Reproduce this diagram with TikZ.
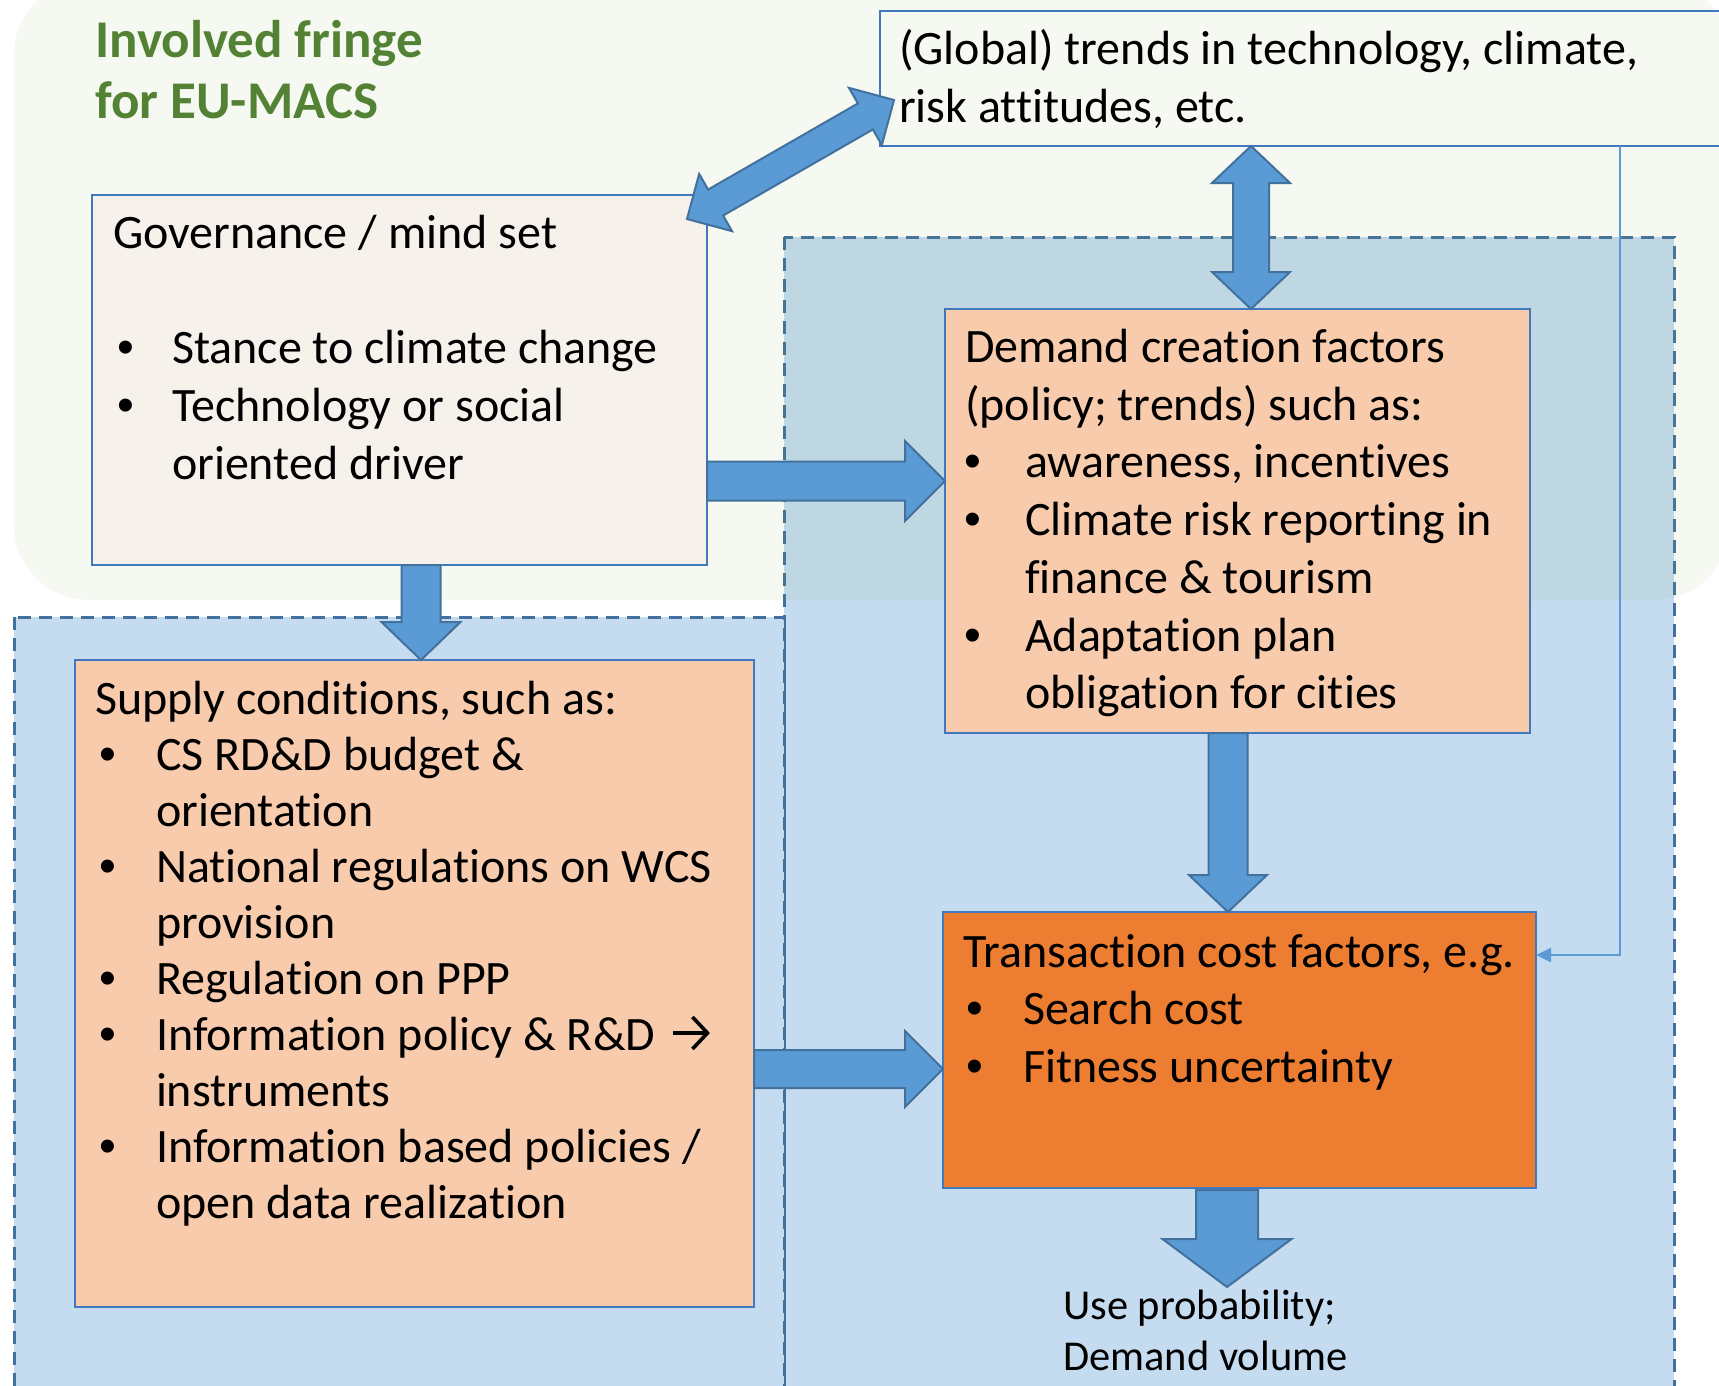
\documentclass[tikz,border=0pt]{standalone}
\usepackage{fontspec}
\setmainfont{Carlito}[Ligatures=NoCommon]
\newfontfamily\arialb{Liberation Sans}
\usetikzlibrary{calc,arrows.meta}
\definecolor{boxline}{RGB}{65,120,190}
\definecolor{dashline}{RGB}{65,113,156}
\definecolor{bluefill}{RGB}{197,219,239}
\definecolor{fringe}{RGB}{112,173,71}
\definecolor{titlegreen}{RGB}{84,130,53}
\definecolor{govfill}{RGB}{246,241,235}
\definecolor{peach}{RGB}{248,203,173}
\definecolor{orangefill}{RGB}{237,125,49}
\definecolor{arrowfill}{RGB}{91,155,213}
\definecolor{arrowline}{RGB}{65,113,156}
\definecolor{thinline}{RGB}{91,155,213}

\newcommand\arrowone[5]{%
  \coordinate (hb) at ($(#2)!#5!(#1)$);
  \filldraw[blockarrow] ($(#1)!#3!90:(#2)$) -- ($(hb)!#3!90:(#2)$) -- ($(hb)!#4!90:(#2)$) -- (#2)
    -- ($(hb)!#4!-90:(#2)$) -- ($(hb)!#3!-90:(#2)$) -- ($(#1)!#3!-90:(#2)$) -- cycle;
}
\newcommand\arrowtwo[5]{%
  \coordinate (hbB) at ($(#2)!#5!(#1)$);
  \coordinate (hbA) at ($(#1)!#5!(#2)$);
  \filldraw[blockarrow] (#1) -- ($(hbA)!#4!90:(#2)$) -- ($(hbA)!#3!90:(#2)$) -- ($(hbB)!#3!90:(#2)$)
    -- ($(hbB)!#4!90:(#2)$) -- (#2) -- ($(hbB)!#4!-90:(#2)$) -- ($(hbB)!#3!-90:(#2)$)
    -- ($(hbA)!#3!-90:(#2)$) -- ($(hbA)!#4!-90:(#2)$) -- cycle;
}
\newcommand\bul{{\arialb •}}

\begin{document}
\begin{tikzpicture}[x=1pt,y=-1pt,
  region/.style={fill=bluefill, draw=dashline, line width=3pt, dash pattern=on 13pt off 8pt},
  box/.style={draw=boxline, line width=2pt, anchor=north west, inner sep=0pt, outer sep=0pt},
  txt/.style={anchor=base west, inner sep=0pt, outer sep=0pt, font=\fontsize{48}{57}\selectfont},
  title/.style={anchor=base west, inner sep=0pt, text=titlegreen, font=\fontsize{53}{62}\selectfont\bfseries},
  outtxt/.style={anchor=base west, inner sep=0pt, font=\fontsize{42.5}{51}\selectfont},
  blockarrow/.style={fill=arrowfill, draw=arrowline, line width=2pt, line join=miter},
  connector/.style={draw=thinline, line width=2.5pt, -{Triangle[length=15pt,width=14pt]}},
  glypharrow/.style={draw=black, line width=3.6pt, line join=miter}
]
\useasboundingbox (0,0) rectangle (1719,1385);
\clip (0,0) rectangle (1719,1385);
\fill[white] (0,0) rectangle (1719,1385);

% dashed regions
\path[region] (784,237) rectangle (1674,1420);
\path[region] (14,617) rectangle (784,1420);

% involved fringe overlay
\fill[fringe, fill opacity=0.065, rounded corners=75pt] (14,-20) rectangle (1730,600);

% title
\node[title] (t1) at (95,57) {Involved fringe};
\node[title] (t2) at (95,118) {for EU-MACS};

% boxes
\node[box, minimum width=880pt, minimum height=135pt] (trend) at (880,11) {};
\node[box, fill=govfill, minimum width=615pt, minimum height=370pt] (gov) at (92,195) {};
\node[box, fill=peach, minimum width=585pt, minimum height=424pt] (dem) at (945,309) {};
\node[box, fill=peach, minimum width=679pt, minimum height=647pt] (sup) at (75,660) {};
\node[box, fill=orangefill, minimum width=593pt, minimum height=276pt] (trans) at (943,912) {};

% trend text
\node[txt] (tr1) at (899,64) {(Global) trends in technology, climate,};
\node[txt] (tr2) at (899,122) {risk attitudes, etc.};

% governance text
\node[txt] (g0) at (113,248) {Governance / mind set};
\node[txt] (g1b) at (117,363) {\bul};
\node[txt] (g1) at (172,363) {Stance to climate change};
\node[txt] (g2b) at (117,421) {\bul};
\node[txt] (g2) at (172,421) {Technology or social};
\node[txt] (g3) at (172,479) {oriented driver};

% demand text
\node[txt] (d0) at (965,362) {Demand creation factors};
\node[txt] (d1) at (965,420) {(policy; trends) such as:};
\node[txt] (d2b) at (964,477) {\bul};
\node[txt] (d2) at (1025,477) {awareness, incentives};
\node[txt] (d3b) at (964,535) {\bul};
\node[txt] (d3) at (1025,535) {Climate risk reporting in};
\node[txt] (d4) at (1025,593) {finance \& tourism};
\node[txt] (d5b) at (964,651) {\bul};
\node[txt] (d5) at (1025,651) {Adaptation plan};
\node[txt] (d6) at (1025,708) {obligation for cities};

% supply text
\node[txt] (s0) at (95,714) {Supply conditions, such as:};
\node[txt] (s1b) at (99,770) {\bul};
\node[txt] (s1) at (156,770) {CS RD\&D budget \&};
\node[txt] (s2) at (156,826) {orientation};
\node[txt] (s3b) at (99,882) {\bul};
\node[txt] (s3) at (156,882) {National regulations on WCS};
\node[txt] (s4) at (156,938) {provision};
\node[txt] (s5b) at (99,994) {\bul};
\node[txt] (s5) at (156,994) {Regulation on PPP};
\node[txt] (s6b) at (99,1050) {\bul};
\node[txt] (s6) at (156,1050) {Information policy \& R\&D};
\node[txt] (s7) at (156,1106) {instruments};
\node[txt] (s8b) at (99,1162) {\bul};
\node[txt] (s8) at (156,1162) {Information based policies /};
\node[txt] (s9) at (156,1218) {open data realization};

% the arrow glyph after "R&D"
\coordinate (ga) at ($(s6.base east)+(18,-17)$);
\coordinate (gb) at ($(ga)+(34,0)$);
\draw[glypharrow] (ga) -- (gb);
\draw[glypharrow] ($(gb)+(-15,-16)$) -- (gb) -- ($(gb)+(-15,16)$);

% transaction text
\node[txt] (x0) at (963,967) {Transaction cost factors, e.g.};
\node[txt] (x1b) at (966,1024) {\bul};
\node[txt] (x1) at (1023,1024) {Search cost};
\node[txt] (x2b) at (966,1082) {\bul};
\node[txt] (x2) at (1023,1082) {Fitness uncertainty};

% output text
\node[outtxt] (out1) at (1063,1319) {Use probability;};
\node[outtxt] (out2) at (1063,1370) {Demand volume};

% thin connector
\coordinate (cstart) at ($(trend.south west)+(740,0)$);
\coordinate (cend) at ($(trans.north east)+(0,43)$);
\draw[connector] (cstart) |- (cend);

% block arrows
\coordinate (da) at ($(gov.north east)+(-20,24)$);
\coordinate (db) at ($(trend.south west)+(14,-46)$);
\arrowtwo{da}{db}{15pt}{33pt}{33pt}

\coordinate (v2) at ($(dem.north west)+(306,0)$);
\coordinate (v1) at (v2 |- trend.south);
\arrowtwo{v1}{v2}{18pt}{39pt}{37pt}

\coordinate (h1) at ($(gov.north east)+(0,286)$);
\coordinate (h2) at (h1 -| dem.west);
\arrowone{h1}{h2}{19.5pt}{40pt}{40pt}

\coordinate (gs1) at ($(gov.south west)+(329,0)$);
\coordinate (gs2) at (gs1 |- sup.north);
\arrowone{gs1}{gs2}{19.5pt}{39.5pt}{38pt}

\coordinate (dt1) at ($(dem.south west)+(283,0)$);
\coordinate (dt2) at (dt1 |- trans.north);
\arrowone{dt1}{dt2}{19.5pt}{39pt}{37pt}

\coordinate (st1) at ($(sup.north east)+(0,409)$);
\coordinate (st2) at (st1 -| trans.west);
\arrowone{st1}{st2}{19pt}{38pt}{38pt}

\coordinate (to1) at ($(trans.south west)+(284,2)$);
\coordinate (to2) at ($(to1)+(0,97)$);
\arrowone{to1}{to2}{31pt}{64.5pt}{48pt}
\end{tikzpicture}
\end{document}
